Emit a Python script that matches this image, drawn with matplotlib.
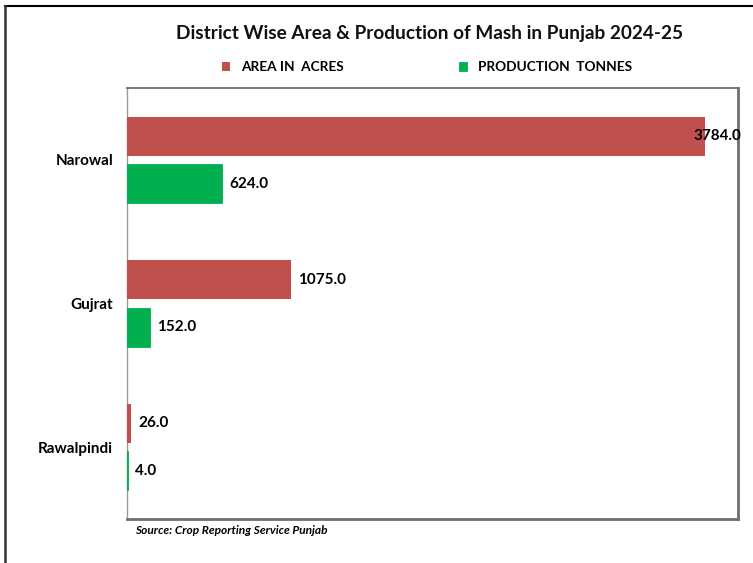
import matplotlib
matplotlib.use("Agg")
import matplotlib.pyplot as plt
from matplotlib.lines import Line2D
import numpy as np

# data
districts = ["Narowal", "Gujrat", "Rawalpindi"]
area_acres = [3784.0, 1075.0, 26.0]
production_tonnes = [624.0, 152.0, 4.0]

red = "#C0504D"
green = "#00B050"

plt.rcParams['font.family'] = ['Lato', 'DejaVu Sans']

fig = plt.figure(figsize=(7.53, 5.63), dpi=100)
W, H = 753, 563
# axes box in pixels: x 127-738, y 88-519
ax = fig.add_axes([127 / W, 1 - 519 / H, (738 - 127) / W, (519 - 88) / H])

y = np.arange(len(districts))
h = 0.27
off = 0.165
bars_a = ax.barh(y - off, area_acres, height=h, color=red, zorder=3)
bars_p = ax.barh(y + off, production_tonnes, height=h, color=green, zorder=3,
                 edgecolor=green, linewidth=0.6)

ax.set_xlim(0, 4000)
ax.set_ylim(2.5, -0.5)
ax.set_xticks([])
ax.set_yticks(y)
ax.set_yticklabels(districts, fontsize=11, fontweight='bold')
ax.tick_params(axis='y', length=0, pad=10)

for b, v in zip(bars_a, area_acres):
    dx = 5
    if v > 3500:
        dx = -8
    ax.annotate(f"{v:.1f}", (b.get_width(), b.get_y() + b.get_height() / 2),
                xytext=(dx, 0), textcoords='offset points', va='center',
                ha='left', fontsize=11, fontweight='bold', zorder=4)
for b, v in zip(bars_p, production_tonnes):
    ax.annotate(f"{v:.1f}", (b.get_width(), b.get_y() + b.get_height() / 2),
                xytext=(5, 0), textcoords='offset points', va='center',
                ha='left', fontsize=11, fontweight='bold', zorder=4)

for s in ['top', 'right', 'bottom']:
    ax.spines[s].set_color('#6f6f6f')
    ax.spines[s].set_linewidth(1.3)
ax.spines['right'].set_linewidth(2)
ax.spines['bottom'].set_linewidth(2)
ax.spines['left'].set_color('#9a9a9a')
ax.spines['left'].set_linewidth(1)

# title & legend
fig.text(430 / W, 1 - 33 / H, "District Wise Area & Production of Mash in Punjab 2024-25",
         ha='center', va='center', fontsize=13.7, fontweight='bold', color='#111111')
leg = fig.legend([bars_a, bars_p], ["AREA IN  ACRES", "PRODUCTION  TONNES"],
                 loc='center', bbox_to_anchor=(427 / W, 1 - 67 / H), ncol=2,
                 frameon=False, fontsize=9.8, handlelength=0.6, handleheight=0.6,
                 columnspacing=8.5, handletextpad=0.8)
for t in leg.get_texts():
    t.set_fontweight('bold')

fig.text(135 / W, 1 - 531 / H, "Source: Crop Reporting Service Punjab",
         ha='left', va='center', fontsize=8.6, fontweight='bold', style='italic')

# outer frame (top and left edges)
fig.add_artist(Line2D([5 / W, 1], [1 - 6 / H, 1 - 6 / H], color='black', lw=1.5))
fig.add_artist(Line2D([5 / W, 5 / W], [0, 1 - 6 / H], color='#333333', lw=1.8))

fig.savefig("out.png", dpi=100)
